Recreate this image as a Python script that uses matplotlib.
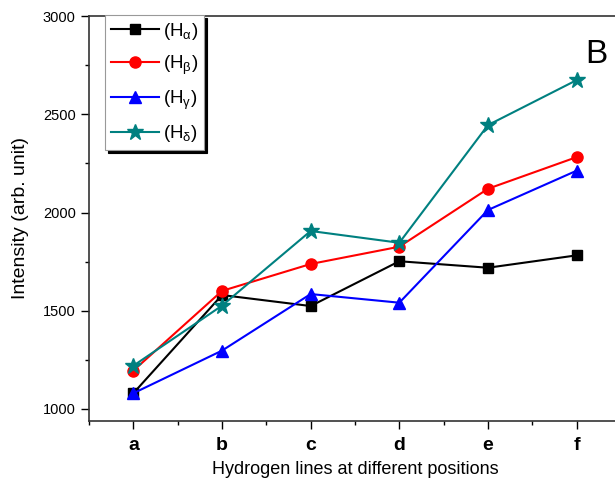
import matplotlib.pyplot as plt
from matplotlib.ticker import MultipleLocator

plt.rcParams['font.family'] = ['Liberation Sans', 'DejaVu Sans']
plt.rcParams['mathtext.default'] = 'regular'

positions = ['a', 'b', 'c', 'd', 'e', 'f']
h_alpha = [1080, 1580, 1524, 1752, 1719, 1782]
h_beta = [1195, 1601, 1738, 1826, 2121, 2282]
h_gamma = [1080, 1297, 1585, 1541, 2013, 2213]
h_delta = [1220, 1526, 1906, 1846, 2445, 2674]

series = [
    (h_alpha, r'(H$_\alpha$)', 'black', 's', 7),
    (h_beta, r'(H$_\beta$)', 'red', 'o', 8),
    (h_gamma, r'(H$_\gamma$)', 'blue', '^', 8),
    (h_delta, r'(H$_\delta$)', '#008080', '*', 12),
]

fig = plt.figure(figsize=(6.15, 4.87), dpi=100)
ax = fig.add_axes([0.1447, 0.136, 0.865, 0.831])

x = range(len(positions))
for vals, label, color, marker, ms in series:
    ax.plot(x, vals, color=color, marker=marker, markersize=ms, linewidth=1.5, label=label)

ax.set_xlim(-0.5, 5.5)
ax.set_ylim(940, 3000)
ax.set_xticks(list(x))
ax.set_xticklabels(positions, fontsize=14, fontweight='bold')
ax.xaxis.set_minor_locator(MultipleLocator(0.5))
ax.yaxis.set_major_locator(MultipleLocator(500))
ax.yaxis.set_minor_locator(MultipleLocator(250))
ax.tick_params(axis='y', labelsize=10.5, length=6, width=1)
ax.tick_params(axis='x', length=6, width=1, pad=6)
ax.tick_params(which='minor', length=3, width=1)
for side in ['left', 'bottom', 'top']:
    ax.spines[side].set_color('#333333')
    ax.spines[side].set_linewidth(1.2)
ax.spines['right'].set_visible(False)

ax.set_xlabel('Hydrogen lines at different positions', fontsize=13, labelpad=5)
ax.set_ylabel('Intensity (arb. unit)', fontsize=14, labelpad=10)

ax.text(0.951, 0.888, 'B', transform=fig.transFigure, fontsize=24, ha='left', va='center')

leg = ax.legend(loc='upper left', bbox_to_anchor=(0.03, 1.002), fontsize=13.5,
                handlelength=2.6, borderpad=0.3, labelspacing=0.62, handletextpad=0.2,
                borderaxespad=0, fancybox=False, shadow={'color': 'black', 'alpha': 1},
                framealpha=1, edgecolor='#999999')
leg.get_frame().set_linewidth(0.8)

fig.savefig('out.png', dpi=100)
